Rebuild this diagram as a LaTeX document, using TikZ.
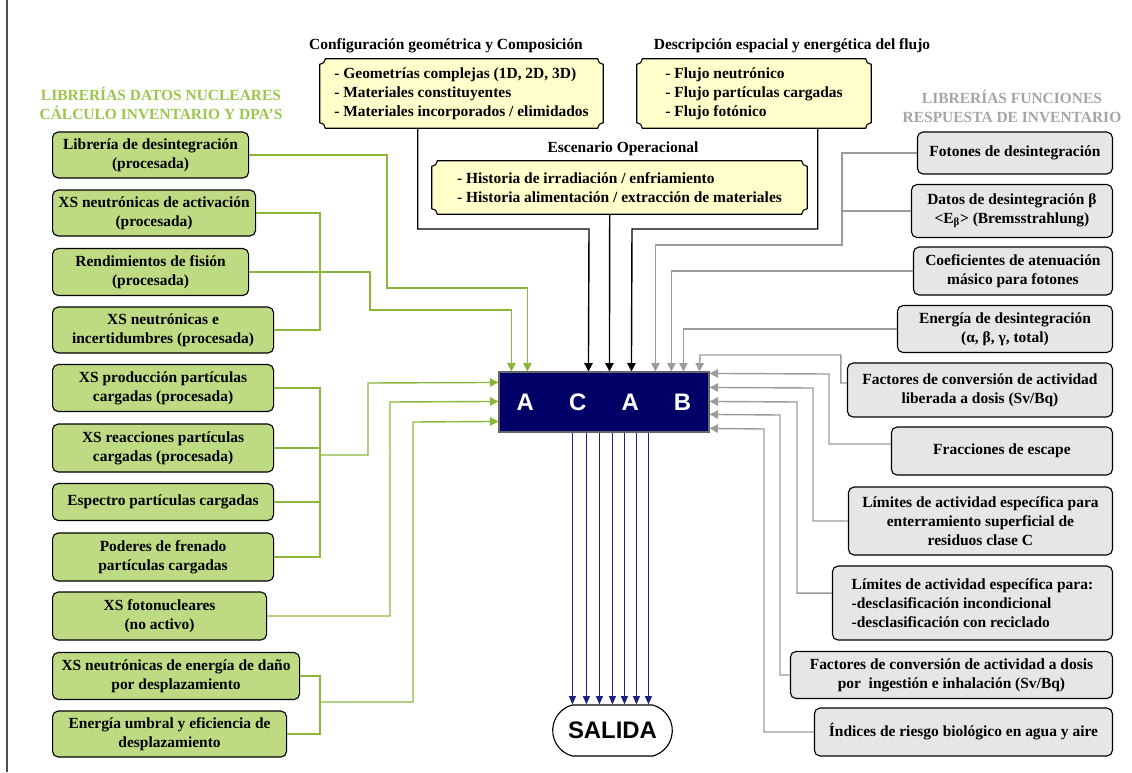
\documentclass[tikz,border=0pt]{standalone}
\usepackage{fontspec}
\setmainfont{Liberation Serif}
\newfontfamily\arialfont{Liberation Sans}
\usetikzlibrary{calc,arrows.meta,shapes.misc,backgrounds}
\definecolor{libgreen}{RGB}{190,218,130}
\definecolor{linegreen}{RGB}{138,182,58}
\definecolor{titlegreen}{RGB}{155,198,75}
\definecolor{respgray}{RGB}{230,230,230}
\definecolor{linegray}{RGB}{155,155,155}
\definecolor{titlegray}{RGB}{165,165,165}
\definecolor{plaqueyellow}{RGB}{255,255,204}
\definecolor{navy}{RGB}{0,0,102}
\definecolor{outblue}{RGB}{30,30,130}
\newcommand{\plaque}[1]{%
  \filldraw[draw=black,line width=0.8pt,fill=plaqueyellow]
    ([xshift=4pt]#1.north west) -- ([xshift=-4pt]#1.north east)
    arc[start angle=180,end angle=270,radius=4pt]
    -- ([yshift=4pt]#1.south east)
    arc[start angle=90,end angle=180,radius=4pt]
    -- ([xshift=4pt]#1.south west)
    arc[start angle=0,end angle=90,radius=4pt]
    -- ([yshift=-4pt]#1.north west)
    arc[start angle=270,end angle=360,radius=4pt] -- cycle;}

\begin{document}
\begin{tikzpicture}[x=0.025cm,y=-0.025cm,
        every node/.style={font=\bfseries\fontsize{11}{13.5}\selectfont},
        boxsize/.style 2 args={minimum width=#1*0.025cm,minimum height=#2*0.025cm},
        libbox/.style={draw,line width=0.8pt,fill=libgreen,rounded corners=4pt,align=center,inner sep=1pt,anchor=west},
        respbox/.style={draw,line width=0.8pt,fill=respgray,rounded corners=4pt,align=center,inner sep=1pt,anchor=east},
        plaquetext/.style={align=left,inner sep=0pt},
        bigsans/.style={font=\arialfont\bfseries\fontsize{17}{17}\selectfont},
        greenline/.style={draw=linegreen,line width=1pt},
        greenarrow/.style={greenline,-{Triangle[width=6pt,length=6pt]}},
        grayline/.style={draw=linegray,line width=1pt},
        grayarrow/.style={grayline,-{Triangle[width=6pt,length=6pt]}},
        blackarrow/.style={draw=black,line width=1pt,-{Triangle[width=6pt,length=6pt]}},
        outarrow/.style={draw=outblue,line width=0.9pt,-{Triangle[width=5pt,length=6pt]}}]
        \useasboundingbox (0,0) rectangle (1132,772);
        \draw[line width=1.2pt,black!70] (7,0) -- (7,772);

        \node[text=titlegreen,align=center] (libtitle) at (161,103) {LIBRERÍAS DATOS NUCLEARES\\CÁLCULO INVENTARIO Y DPA’S};
        \node[text=titlegray,align=center] (resptitle) at (1012,106) {LIBRERÍAS FUNCIONES\\RESPUESTA DE INVENTARIO};
        \node (cfgtitle) at (446,46) {Configuración geométrica y Composición};
        \node (fluxtitle) at (792,46) {Descripción espacial y energética del flujo};
        \node (esctitle) at (623,149) {Escenario Operacional};

        \node[plaquetext,boxsize={283}{69}] (cfg) at (461.5,93.5) {- Geometrías complejas (1D, 2D, 3D)\\- Materiales constituyentes\\- Materiales incorporados / elimidados};
        \node[plaquetext,boxsize={234}{69}] (flux) at (754,93.5) {- Flujo neutrónico\\- Flujo partículas cargadas\\- Flujo fotónico};
        \node[plaquetext,boxsize={375}{53}] (esc) at (619.5,187.5) {- Historia de irradiación / enfriamiento\\- Historia alimentación / extracción de materiales};
        \begin{scope}[on background layer]
            \plaque{cfg}
            \plaque{flux}
            \plaque{esc}
        \end{scope}

        \node[libbox,boxsize={196}{46}] (lib1) at (52,155) {Librería de desintegración\\(procesada)};
        \node[libbox,boxsize={203}{46}] (lib2) at (52,213) {XS neutrónicas de activación\\(procesada)};
        \node[libbox,boxsize={196}{47}] (lib3) at (52,272) {Rendimientos de fisión\\(procesada)};
        \node[libbox,boxsize={221}{46}] (lib4) at (52,330) {XS neutrónicas e\\incertidumbres (procesada)};
        \node[libbox,boxsize={221}{47}] (lib5) at (52,388) {XS producción partículas\\cargadas (procesada)};
        \node[libbox,boxsize={221}{48}] (lib6) at (52,448) {XS reacciones partículas\\cargadas (procesada)};
        \node[libbox,boxsize={221}{37}] (lib7) at (52,502) {Espectro partículas cargadas};
        \node[libbox,boxsize={221}{48}] (lib8) at (52,557) {Poderes de frenado\\partículas cargadas};
        \node[libbox,boxsize={214}{48}] (lib9) at (52,616) {XS fotonucleares\\(no activo)};
        \node[libbox,boxsize={247}{47}] (lib10) at (52,676) {XS neutrónicas de energía de daño\\por desplazamiento};
        \node[libbox,boxsize={234}{46}] (lib11) at (52,734) {Energía umbral y eficiencia de\\desplazamiento};

        \node[respbox,boxsize={195}{42}] (resp1) at (1113,153) {Fotones de desintegración};
        \node[respbox,boxsize={201}{53}] (resp2) at (1113,211) {Datos de desintegración β\\<E\textsubscript{β}> (Bremsstrahlung)};
        \node[respbox,boxsize={199}{48}] (resp3) at (1113,271) {Coeficientes de atenuación\\másico para fotones};
        \node[respbox,boxsize={215}{47}] (resp4) at (1113,329) {Energía de desintegración\\(α, β, γ, total)};
        \node[respbox,boxsize={265}{54}] (resp5) at (1113,390) {Factores de conversión de actividad\\liberada a dosis (Sv/Bq)};
        \node[respbox,boxsize={221}{48}] (resp6) at (1113,451) {Fracciones de escape};
        \node[respbox,boxsize={264}{68}] (resp7) at (1113,521) {Límites de actividad específica para\\enterramiento superficial de\\residuos clase C};
        \node[respbox,boxsize={280}{74},align=left] (resp8) at (1113,603) {Límites de actividad específica para:\\-desclasificación incondicional\\-desclasificación con reciclado};
        \node[respbox,boxsize={322}{47}] (resp9) at (1113,675) {Factores de conversión de actividad a dosis\\por\ \ ingestión e inhalación (Sv/Bq)};
        \node[respbox,boxsize={298}{48}] (resp10) at (1113,732) {Índices de riesgo biológico en agua y aire};

        \node[draw=black!60,line width=0.8pt,fill=navy,text=white,bigsans,boxsize={210}{60}] (acab) at (604,402) {A\hspace{25pt}C\hspace{25pt}A\hspace{25pt}B};
        \node[rounded rectangle,rounded rectangle arc length=150,draw,line width=0.8pt,fill=white,bigsans,boxsize={129}{51}] (salida) at (612.5,730.5) {SALIDA};

        \draw[greenarrow] (lib1.east) -| (387,288) -| ($(acab.north west)+(29,0)$);
        \draw[greenarrow] (lib3.east) -| (370,310) -| ($(acab.north west)+(13,0)$);
        \draw[greenline] (lib2.east) -| (320,330) -- (lib4.east);
        \draw[greenline] (lib5.east) -| (320,557) -- (lib8.east);
        \draw[greenline] (lib6.east) -- (320,448);
        \draw[greenline] (lib7.east) -- (320,502);
        \draw[greenarrow] (320,455) -| (368,383) -- ($(acab.north west)+(0,11)$);
        \draw[greenarrow] (lib9.east) -| (390,402) -- ($(acab.north west)+(0,30)$);
        \draw[greenline] (lib10.east) -| (320,734) -- (lib11.east);
        \draw[greenarrow] (320,702) -| (413,422) -- ($(acab.north west)+(0,50)$);

        \draw[blackarrow] ($(cfg.south west)+(98,0)$) |- (589,229) -- ($(acab.north west)+(90,0)$);
        \draw[blackarrow] ($(esc.south west)+(178,0)$) -- ($(acab.north west)+(111,0)$);
        \draw[blackarrow] ($(flux.south west)+(181,0)$) |- (632,229) -- ($(acab.north west)+(133,0)$);

        \draw[grayarrow] (resp1.west) -| (842,245) -| ($(acab.north west)+(157,0)$);
        \draw[grayline] (resp2.west) -- ++(-70,0);
        \draw[grayarrow] (resp3.west) -| ($(acab.north west)+(173,0)$);
        \draw[grayarrow] (resp4.west) -| ($(acab.north west)+(185,0)$);
        \draw[grayarrow] ([yshift=5pt]resp5.west) -- ++(-6,0) |- (700,355) -- ($(acab.north west)+(201,0)$);
        \draw[grayarrow] ([yshift=5pt]resp6.west) -| (829,374) -- ($(acab.north east)+(0,2)$);
        \draw[grayarrow] (resp7.west) -| (813,388) -- ($(acab.north east)+(0,16)$);
        \draw[grayarrow] ([yshift=7pt]resp8.west) -| (797,402) -- ($(acab.north east)+(0,30)$);
        \draw[grayarrow] (resp9.west) -| (780,415) -- ($(acab.north east)+(0,43)$);
        \draw[grayarrow] (resp10.west) -| (764,429) -- ($(acab.north east)+(0,57)$);

        \foreach \dx in {74,88,101,114,126,138,150}
            \draw[outarrow] ($(acab.south west)+(\dx,0)$) coordinate (o) -- (o |- salida.north);
\end{tikzpicture}
\end{document}
